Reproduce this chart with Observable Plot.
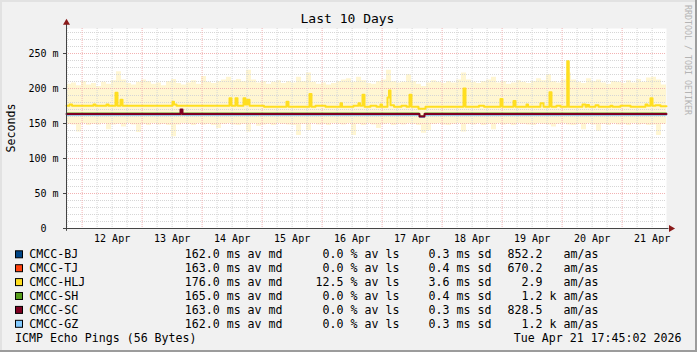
<!DOCTYPE html>
<html><head><meta charset="utf-8">
<script src="https://cdn.jsdelivr.net/npm/d3@7"></script>
<script src="https://cdn.jsdelivr.net/npm/@observablehq/plot@0.6"></script>
<style>
html,body{margin:0;padding:0;background:#f1f1f1;}
#wrap{position:relative;width:697px;height:352px;background:#f1f1f1;overflow:hidden;}
#wrap svg{position:absolute;left:0;top:0;}
</style></head>
<body><div id="wrap"></div>
<script>
// ---- data ----
const startTime = new Date(2026, 3, 11, 17, 45, 2);
const endHours = 240;
const dayLabels = ["12 Apr","13 Apr","14 Apr","15 Apr","16 Apr","17 Apr","18 Apr","19 Apr","20 Apr","21 Apr"];
const yTicks = [0, 50, 100, 150, 200, 250];

const hosts = ["CMCC-BJ","CMCC-TJ","CMCC-HLJ","CMCC-SH","CMCC-SC","CMCC-GZ"];
const hostColors = ["#004586","#ff420e","#ffde20","#579d1c","#7e0021","#83caff"];
const medians = ["162.0","163.0","176.0","165.0","163.0","162.0"];
const losses = ["0.0","0.0","12.5","0.0","0.0","0.0"];
const sds = ["0.3","0.4","3.6","0.4","0.3","0.3"];
const amas = ["852.2","670.2","2.9","1.2","828.5","1.2"];
const amasUnits = ["","","","k","","k"];

// median lines: hours since start, milliseconds (step series)
const bjHours = [0, 141.2, 143.2, 240];
const bjMs = [162.5, 159.5, 162.5, 162.5];
const tjHours = [0, 141.2, 143.2, 240];
const tjMs = [163, 160, 163, 163];
const hljHours = [0,1.2,2.2,10.8,11.6,16,16.8,19.6,20.4,21.6,22.4,42.4,43,44,65.2,66,67.6,68.4,70.8,71.6,72.4,73.2,79,88,88.8,97.2,98,99.6,103.6,109.6,110.2,114.8,116.8,117.4,118.4,119.2,121.6,124,125.6,126.2,128.4,129,129.6,131,134,136,137.2,138,140.8,143.6,158.8,159.6,165,167,173.6,174.4,178.8,179.6,184,184.6,189.6,190.8,193.2,194,196,197.6,200.3,200.9,206.4,207.6,208.2,209,211.6,212.8,217.6,218.4,221.6,225.6,231.6,232.4,233.6,234.4,235.6,237.6,240];
const hljMs = [175.5,177,175.5,177,175.5,177,175.5,194,175.5,184,175.5,181,177,175.5,186,175.5,186,175.5,186,177,184,175.5,174,181,174,192,174,175.5,174,179,174,175.5,179,175.5,191,174,175.5,174,177,174,187,197,176,174,175.5,174,191,174,171,174,200,174,175.5,174,185,174,182,174,177,174,179,174,194.5,174,175.5,174,239,174,177,174,176.5,174,176,174,175.5,174,175.5,174,177,175.5,186,175.5,176,174.5,174.5];
const shHours = [0, 141.2, 143.2, 240];
const shMs = [165, 161, 165, 165];
const scHours = [0, 45.6, 46.4, 141.2, 143.2, 240];
const scMs = [163.5, 170, 163.5, 160, 163.5, 163.5];
const gzHours = [0, 45.6, 46.4, 76.8, 77.6, 141.2, 143.2, 240];
const gzMs = [162, 164, 162, 164, 162, 158.5, 162, 162];

// smoke band, 2-hour bins
const smokeUpper = [
206,208,204,210,205,207,203,209,206,211,
224,212,207,205,209,212,210,206,208,204,
210,213,207,205,208,211,206,217,209,207,
210,212,216,211,213,210,226,212,208,210,
206,209,211,207,210,208,216,210,222,209,
206,208,205,207,210,212,214,209,216,211,
207,206,210,212,226,210,208,209,220,210,
206,203,208,211,209,207,210,208,212,222,
212,209,207,210,212,216,208,210,206,208,
211,209,207,210,214,211,220,210,208,212,
222,212,209,207,214,210,212,208,206,210,
209,207,211,208,213,209,215,216,212,205];
const smokeLower = [
149,148,138,150,147,149,148,150,141,148,
149,145,150,148,137,149,147,150,148,149,
147,131,148,150,149,147,150,148,149,147,
143,149,150,148,147,149,138,150,146,148,
149,147,150,149,148,147,133,149,140,150,
148,149,147,150,149,148,150,133,149,147,
150,148,143,149,150,147,149,148,150,149,
147,136,140,149,150,148,147,149,150,138,
149,148,150,147,149,141,150,148,149,147,
150,149,148,147,150,149,148,145,149,150,
148,147,149,141,150,148,139,149,147,150,
148,149,147,150,148,149,147,148,133,149];

// ---- build ----
const at = h => new Date(startTime.getTime() + h * 3600000);
const endTime = at(endHours);
const mk = (hours, ms) => hours.map((h, i) => ({t: at(h), v: ms[i]}));
const seriesData = [mk(bjHours,bjMs), mk(tjHours,tjMs), mk(hljHours,hljMs), mk(shHours,shMs), mk(scHours,scMs), mk(gzHours,gzMs)];
const widths = [1, 1, 2, 1, 2, 1];
const drawOrder = [0, 1, 5, 3, 4, 2];

const smoke = smokeUpper.map((u, i) => ({t: at(2 * i), hi: u, lo: smokeLower[i]}));
smoke.push({t: endTime, hi: smokeUpper[smokeUpper.length - 1], lo: smokeLower[smokeLower.length - 1]});

const noonTicks = dayLabels.map((_, i) => new Date(2026, 3, 12 + i, 12));
const minorY = d3.range(10, 290, 10).filter(v => v % 50 !== 0);
const majorY = yTicks.filter(v => v > 0);
const majorX = d3.timeDay.range(startTime, endTime);
const minorX = d3.timeHour.every(6).range(startTime, endTime).filter(d => d.getHours() !== 0);

const font = "DejaVu Sans Mono";
const chart = Plot.plot({
  width: 697, height: 352,
  marginLeft: 66, marginRight: 31, marginTop: 28, marginBottom: 124,
  x: {type: "time", domain: [startTime, endTime]},
  y: {domain: [0, 2000 / 7]},
  style: {background: "transparent", fontFamily: font, fontSize: "10px", color: "#000", overflow: "visible"},
  marks: [
    Plot.frame({fill: "white", stroke: "none"}),
    Plot.areaY(smoke, {x: "t", y1: "lo", y2: "hi", curve: "step-after", fill: "#fff6d2"}),
    Plot.ruleY(minorY, {stroke: "#d6d6d6", strokeDasharray: "1,1"}),
    Plot.ruleX(minorX, {stroke: "#d6d6d6", strokeDasharray: "1,1"}),
    Plot.ruleY(majorY, {stroke: "#f2b2b2", strokeDasharray: "1,1"}),
    Plot.ruleX(majorX, {stroke: "#f2b2b2", strokeDasharray: "1,1"}),
    ...drawOrder.map(i => Plot.line(seriesData[i], {x: "t", y: "v", curve: "step-after", stroke: hostColors[i], strokeWidth: widths[i]})),
    Plot.ruleX([startTime], {y1: -4, y2: 293, stroke: "#444"}),
    Plot.ruleY([0], {x1: at(-1.2), x2: at(241), stroke: "#444"}),
    Plot.dot([startTime], {x: d => d, y: 294, symbol: "triangle", r: 2.6, fill: "#8a1a1a", stroke: "none"}),
    Plot.dot([endTime], {x: () => at(241.8), y: 0, symbol: "triangle", rotate: 90, r: 2.6, fill: "#8a1a1a", stroke: "none"}),
    Plot.axisY(yTicks, {tickFormat: d => d === 0 ? "0\u00a0\u00a0" : d + " m", tickSize: 3, tickPadding: 5, label: null, stroke: "#444"}),
    Plot.axisX(noonTicks, {tickFormat: d => dayLabels[noonTicks.findIndex(n => +n === +d)], tickSize: 0, tickPadding: 6, label: null})
  ]
});
const wrap = document.getElementById("wrap");
wrap.appendChild(chart);

// ---- overlay text: title, labels, legend ----
const ov = d3.select(wrap).append("svg").attr("width", 697).attr("height", 352)
  .attr("font-family", font).attr("fill", "#000").style("pointer-events", "none");
// 3D border
ov.append("rect").attr("x", 0).attr("y", 0).attr("width", 697).attr("height", 2).attr("fill", "#e2e2e2");
ov.append("rect").attr("x", 0).attr("y", 0).attr("width", 2).attr("height", 352).attr("fill", "#e2e2e2");
ov.append("rect").attr("x", 695).attr("y", 0).attr("width", 2).attr("height", 352).attr("fill", "#9c9c9c");
ov.append("rect").attr("x", 0).attr("y", 350).attr("width", 697).attr("height", 2).attr("fill", "#9c9c9c");

ov.append("text").attr("x", 347.5).attr("y", 23.3).attr("text-anchor", "middle").attr("font-size", 13).text("Last 10 Days");
ov.append("text").attr("transform", "translate(15,128) rotate(-90)").attr("text-anchor", "middle").attr("font-size", 11.6).text("Seconds");
ov.append("text").attr("transform", "translate(685,5) rotate(90)").attr("font-size", 8.3).attr("fill", "#b4b4b4").text("RRDTOOL / TOBI OETIKER");

const fs = 11.6;
hosts.forEach((h, i) => {
  const b = 258.3 + i * 13.9;
  ov.append("rect").attr("x", 15.5).attr("y", b - 7.5).attr("width", 7).attr("height", 7)
    .attr("fill", hostColors[i]).attr("stroke", "#000").attr("stroke-width", 1);
  const t = (x, s, anchor) => ov.append("text").attr("x", x).attr("y", b).attr("font-size", fs)
    .attr("text-anchor", anchor || "start").attr("xml:space", "preserve").text(s);
  t(29.3, h);
  t(184.8, medians[i] + " ms av md");
  t(343.5, losses[i], "end");
  t(350.5, "% av ls");
  t(428.6, sds[i] + " ms sd");
  t(542.5, amas[i], "end");
  if (amasUnits[i]) t(549.5, amasUnits[i]);
  t(563.5, "am/as");
});
ov.append("text").attr("x", 15).attr("y", 341.7).attr("font-size", fs).text("ICMP Echo Pings (56 Bytes)");
ov.append("text").attr("x", 681.4).attr("y", 341.7).attr("font-size", fs).attr("text-anchor", "end").text("Tue Apr 21 17:45:02 2026");
</script></body></html>
